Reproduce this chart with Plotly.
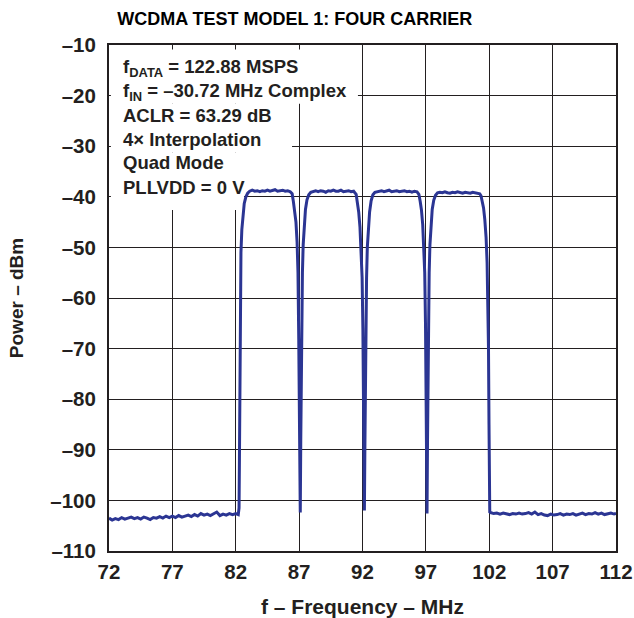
import plotly.graph_objects as go

# ---------------- data ----------------
floor_lo_f = [72.0, 72.25, 72.5, 72.75, 73.0, 73.25, 73.5, 73.75, 74.0, 74.25, 74.5, 74.75,
              75.0, 75.25, 75.5, 75.75, 76.0, 76.25, 76.5, 76.75, 77.0, 77.25, 77.5, 77.75,
              78.0, 78.25, 78.5, 78.75, 79.0, 79.25, 79.5, 79.75, 80.0, 80.25, 80.5, 80.75,
              81.0, 81.25, 81.5, 81.75, 82.0, 82.2]
floor_lo_p = [-103.5, -103.9, -103.6, -103.8, -103.4, -103.7, -103.5, -103.3, -103.6, -103.4,
              -103.7, -103.3, -103.5, -103.8, -103.4, -103.5, -103.2, -103.5, -103.1, -103.4,
              -103.1, -103.4, -103.0, -103.3, -103.1, -102.9, -103.2, -102.8, -103.1, -102.6,
              -102.9, -102.7, -103.0, -102.7, -102.3, -103.0, -102.7, -102.9, -102.6, -102.8,
              -102.6, -102.8]

edge1_f = [82.26, 82.29, 82.31, 82.33, 82.36, 82.41, 82.48, 82.57, 82.67, 82.80, 82.94]
edge1_p = [-101.5, -92.0, -80.0, -68.0, -58.0, -51.0, -46.5, -43.5, -41.3, -40.0, -39.3]

car1_f = [83.1, 83.3, 83.5, 83.7, 83.9, 84.1, 84.3, 84.5, 84.7, 84.9, 85.1, 85.3, 85.5, 85.7,
          85.9, 86.1, 86.3]
car1_p = [-38.9, -38.7, -38.9, -38.8, -39.0, -38.8, -38.9, -38.7, -38.9, -38.8, -38.6, -38.9,
          -38.8, -38.7, -38.9, -38.8, -39.0]

dip1_f = [86.45, 86.55, 86.65, 86.75, 86.84, 86.91, 86.97, 87.01, 87.05, 87.09, 87.13, 87.17,
          87.21, 87.26, 87.32, 87.40, 87.50, 87.62, 87.76, 87.92]
dip1_p = [-39.4, -41.0, -42.6, -45.0, -49.0, -55.0, -68.0, -80.0, -91.0, -102.4, -88.0, -74.0,
          -63.0, -55.0, -49.5, -45.5, -42.5, -40.6, -39.6, -39.1]

car2_f = [88.1, 88.3, 88.5, 88.7, 88.9, 89.1, 89.3, 89.5, 89.7, 89.9, 90.1, 90.3, 90.5, 90.7,
          90.9, 91.1, 91.3]
car2_p = [-38.9, -38.8, -39.0, -38.8, -38.9, -39.1, -38.8, -38.9, -38.7, -38.9, -38.9, -38.7,
          -39.0, -38.9, -38.8, -39.0, -38.9]

dip2_f = [91.5, 91.6, 91.7, 91.8, 91.9, 91.97, 92.03, 92.07, 92.11, 92.15, 92.19, 92.23, 92.27,
          92.32, 92.38, 92.46, 92.56, 92.68, 92.82, 92.98]
dip2_p = [-39.5, -41.0, -43.0, -46.0, -50.5, -56.0, -66.0, -78.0, -90.0, -102.0, -89.0, -75.0,
          -64.0, -56.0, -50.0, -46.0, -43.0, -40.8, -39.6, -39.1]

car3_f = [93.1, 93.3, 93.5, 93.7, 93.9, 94.1, 94.3, 94.5, 94.7, 94.9, 95.1, 95.3, 95.5, 95.7,
          95.9, 96.1, 96.3]
car3_p = [-39.0, -38.9, -38.8, -39.0, -38.9, -38.7, -39.0, -38.9, -38.8, -39.0, -38.9, -38.8,
          -39.0, -38.9, -39.1, -38.9, -39.0]

dip3_f = [96.45, 96.55, 96.65, 96.75, 96.84, 96.91, 96.97, 97.01, 97.05, 97.09, 97.13, 97.17,
          97.21, 97.26, 97.32, 97.40, 97.50, 97.62, 97.76, 97.92]
dip3_p = [-39.5, -40.9, -42.6, -45.5, -49.5, -55.0, -65.0, -77.0, -90.0, -102.6, -88.0, -74.0,
          -63.0, -55.0, -49.5, -45.5, -42.5, -40.7, -39.7, -39.2]

car4_f = [98.1, 98.3, 98.5, 98.7, 98.9, 99.1, 99.3, 99.5, 99.7, 99.9, 100.1, 100.3, 100.5,
          100.7, 100.9, 101.1, 101.25]
car4_p = [-39.1, -39.2, -39.0, -39.2, -39.3, -39.1, -39.2, -39.0, -39.2, -39.3, -39.1, -39.2,
          -39.3, -39.1, -39.2, -39.3, -39.4]

edge4_f = [101.35, 101.45, 101.55, 101.65, 101.75, 101.83, 101.89, 101.94, 101.98, 102.01, 102.04]
edge4_p = [-39.8, -40.8, -42.2, -44.5, -48.0, -53.0, -60.0, -70.0, -85.0, -98.0, -102.3]

floor_hi_f = [102.1, 102.35, 102.6, 102.85, 103.1, 103.35, 103.6, 103.85, 104.1, 104.35, 104.6,
              104.85, 105.1, 105.35, 105.6, 105.85, 106.1, 106.35, 106.6, 106.85, 107.1, 107.35,
              107.6, 107.85, 108.1, 108.35, 108.6, 108.85, 109.1, 109.35, 109.6, 109.85, 110.1,
              110.35, 110.6, 110.85, 111.1, 111.35, 111.6, 111.85, 112.0]
floor_hi_p = [-102.4, -102.6, -102.5, -102.7, -102.5, -102.6, -102.8, -102.6, -102.7, -102.5,
              -102.7, -102.6, -102.4, -102.7, -102.3, -102.8, -102.6, -102.9, -103.0, -102.7,
              -102.9, -102.8, -102.6, -102.9, -102.7, -102.8, -102.6, -102.9, -102.7, -102.5,
              -102.8, -102.6, -102.7, -102.4, -102.7, -102.5, -102.8, -102.6, -102.5, -102.7,
              -102.6]

x_ticks = [72, 77, 82, 87, 92, 97, 102, 107, 112]
x_ticktext = ["72", "77", "82", "87", "92", "97", "102", "107", "112"]
y_ticks = [-10, -20, -30, -40, -50, -60, -70, -80, -90, -100, -110]
y_ticktext = ["\u201310", "\u201320", "\u201330", "\u201340", "\u201350", "\u201360", "\u201370",
              "\u201380", "\u201390", "\u2013100", "\u2013110"]

info_lines = ["f<sub>DATA</sub> = 122.88 MSPS",
              "f<sub>IN</sub> = \u201330.72 MHz Complex",
              "ACLR = 63.29 dB",
              "4\u00d7 Interpolation",
              "Quad Mode",
              "PLLVDD = 0 V"]

title_text = "WCDMA TEST MODEL 1: FOUR CARRIER"
x_title = "f \u2013 Frequency \u2013 MHz"
y_title = "Power \u2013 dBm"

# ---------------- figure ----------------
freq = (floor_lo_f + edge1_f + car1_f + dip1_f + car2_f + dip2_f + car3_f + dip3_f
        + car4_f + edge4_f + floor_hi_f)
power = (floor_lo_p + edge1_p + car1_p + dip1_p + car2_p + dip2_p + car3_p + dip3_p
         + car4_p + edge4_p + floor_hi_p)

FONT = "Liberation Sans, Arial, Helvetica, sans-serif"
INK = "#231F20"
LINE = "#2B3593"

fig = go.Figure()
fig.add_trace(go.Scatter(x=freq, y=power, mode="lines",
                         line=dict(color=LINE, width=3), hoverinfo="skip",
                         showlegend=False))

# white masks behind the text block (between gridlines and trace)
mask_boxes = [
    (72.15, 91.64, -10.9, -21.6),
    (72.15, 86.44, -21.6, -31.3),
    (72.15, 82.65, -31.3, -42.6),
]
for x0, x1, y0, y1 in mask_boxes:
    fig.add_shape(type="rect", xref="x", yref="y", x0=x0, x1=x1, y0=y0, y1=y1,
                  fillcolor="white", line=dict(width=0), layer="between")

ann_y = [-14.5, -19.25, -24.0, -28.75, -33.3, -38.1]
for txt, yy in zip(info_lines, ann_y):
    fig.add_annotation(x=72.95, y=yy, xref="x", yref="y", text=txt, showarrow=False,
                       xanchor="left", yanchor="middle",
                       font=dict(family=FONT, size=18.5, color=INK, weight="bold"))

fig.update_layout(
    width=634, height=618,
    margin=dict(l=109, r=18, t=45, b=67, autoexpand=False),
    paper_bgcolor="white", plot_bgcolor="white",
    title=dict(text=title_text, x=0.465, xanchor="center", y=0.969, yanchor="middle",
               font=dict(family=FONT, size=18, color="black", weight="bold")),
    font=dict(family=FONT, color=INK),
)

fig.update_xaxes(range=[72, 112], tickvals=x_ticks, ticktext=x_ticktext,
                 showgrid=True, gridcolor=INK, gridwidth=1, zeroline=False,
                 showline=True, mirror=True, linecolor=INK, linewidth=2,
                 ticks="", ticklabelstandoff=1, automargin=False,
                 tickfont=dict(family=FONT, size=20.5, color=INK, weight="bold"),
                 title=dict(text=x_title, standoff=21,
                            font=dict(family=FONT, size=21, color=INK, weight="bold")))
fig.update_yaxes(range=[-110, -10], tickvals=y_ticks, ticktext=y_ticktext,
                 showgrid=True, gridcolor=INK, gridwidth=1, zeroline=False,
                 showline=True, mirror=True, linecolor=INK, linewidth=2,
                 ticks="", ticklabelstandoff=7, automargin=False,
                 tickfont=dict(family=FONT, size=20.5, color=INK, weight="bold"),
                 title=dict(text=y_title, standoff=22,
                            font=dict(family=FONT, size=19, color=INK, weight="bold")))

fig.write_html("out.html",
               config={"displayModeBar": False, "staticPlot": True},
               post_script="document.body.style.margin='0';document.body.style.padding='0';")
